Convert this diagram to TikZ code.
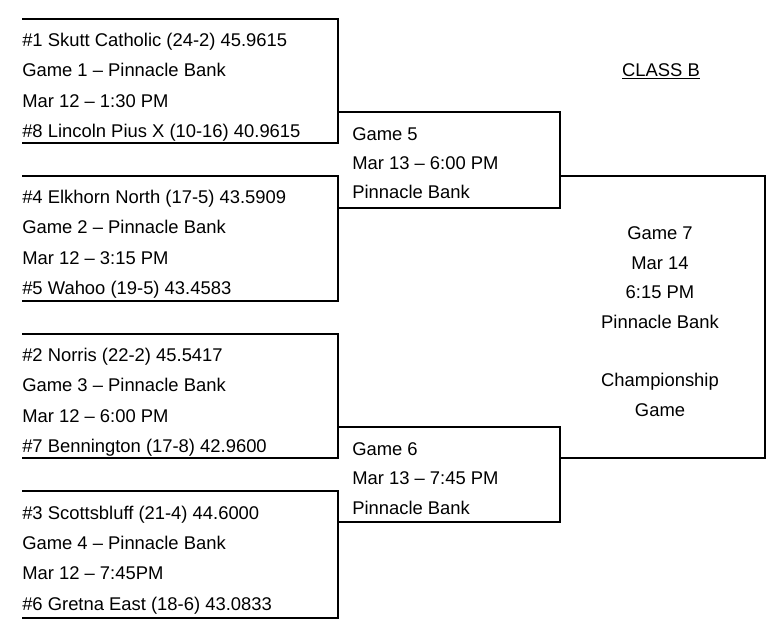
\documentclass[tikz,border=0pt]{standalone}
\usepackage{fontspec}
\setmainfont{Liberation Sans}
\usepackage{tikz}

\begin{document}
\begin{tikzpicture}[x=0.75pt, y=-0.75pt,
  team/.style={anchor=base west, align=left, inner sep=0pt, font=\fontsize{13.8}{22.7}\selectfont},
  game/.style={anchor=base west, align=left, inner sep=0pt, font=\fontsize{13.8}{22.1}\selectfont},
  final/.style={anchor=base, align=center, inner sep=0pt, font=\fontsize{13.8}{22}\selectfont},
  bracket/.style={line width=1.2pt}
]
\useasboundingbox (0,0) rectangle (774,634);

% bracket corners
\coordinate (g1nw) at (22,19);   \coordinate (g1se) at (338,143);
\coordinate (g2nw) at (22,176);  \coordinate (g2se) at (338,301);
\coordinate (g3nw) at (22,334);  \coordinate (g3se) at (338,458);
\coordinate (g4nw) at (22,491);  \coordinate (g4se) at (338,618);
\coordinate (g5nw) at (338,112); \coordinate (g5se) at (560,208);
\coordinate (g6nw) at (338,427); \coordinate (g6se) at (560,522);
\coordinate (g7nw) at (560,176); \coordinate (g7se) at (765,458);

% node base = baseline of last line
\node[team] (g1) at (22,137.5) {\#1 Skutt Catholic (24-2) 45.9615\\Game 1 – Pinnacle Bank\\Mar 12 – 1:30 PM\\\#8 Lincoln Pius X (10-16) 40.9615};
\node[team] (g2) at (22,294.5) {\#4 Elkhorn North (17-5) 43.5909\\Game 2 – Pinnacle Bank\\Mar 12 – 3:15 PM\\\#5 Wahoo (19-5) 43.4583};
\node[team] (g3) at (22,452.5) {\#2 Norris (22-2) 45.5417\\Game 3 – Pinnacle Bank\\Mar 12 – 6:00 PM\\\#7 Bennington (17-8) 42.9600};
\node[team] (g4) at (22,610) {\#3 Scottsbluff (21-4) 44.6000\\Game 4 – Pinnacle Bank\\Mar 12 – 7:45PM\\\#6 Gretna East (18-6) 43.0833};

\node[game] (g5) at (352,199) {Game 5\\Mar 13 – 6:00 PM\\Pinnacle Bank};
\node[game] (g6) at (352,514) {Game 6\\Mar 13 – 7:45 PM\\Pinnacle Bank};

\node[final] (g7) at (660,416) {Game 7\\Mar 14\\6:15 PM\\Pinnacle Bank\\[22pt]Championship\\Game};

\node[final] (classb) at (661,76.7) {\underline{CLASS B}};

\draw[bracket] (g1nw) -| (g1se) -- (g1se -| g1nw);
\draw[bracket] (g2nw) -| (g2se) -- (g2se -| g2nw);
\draw[bracket] (g3nw) -| (g3se) -- (g3se -| g3nw);
\draw[bracket] (g4nw) -| (g4se) -- (g4se -| g4nw);
\draw[bracket] (g5nw) -| (g5se) -- (g5se -| g5nw);
\draw[bracket] (g6nw) -| (g6se) -- (g6se -| g6nw);
\draw[bracket] (g7nw) -| (g7se) -- (g7se -| g7nw);
\end{tikzpicture}
\end{document}
